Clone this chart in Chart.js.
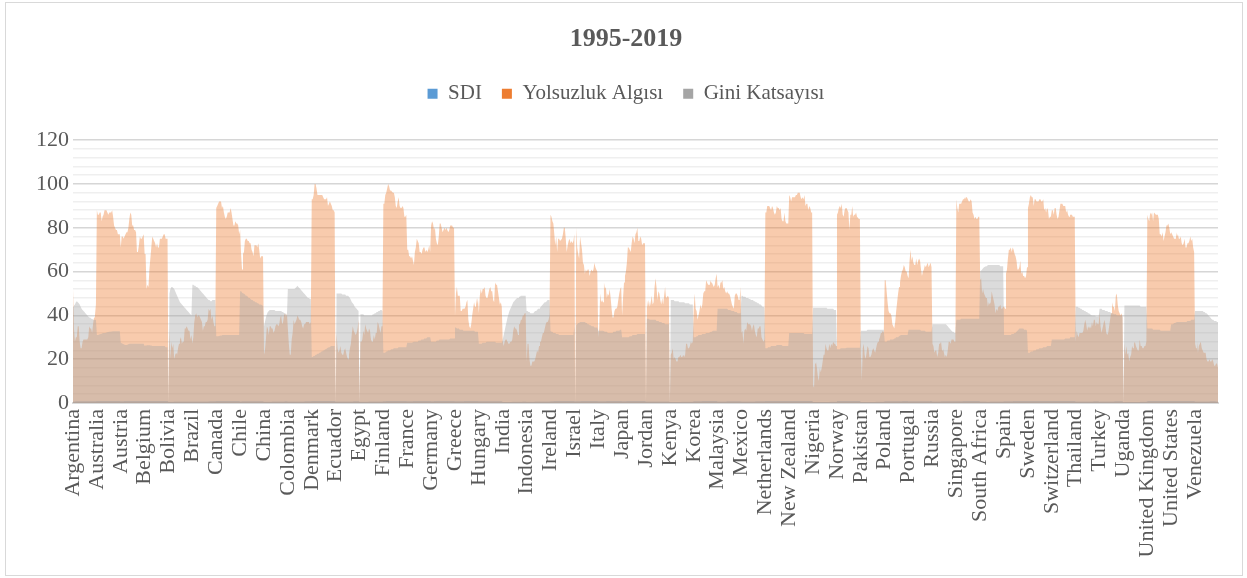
<!DOCTYPE html>
<html>
<head>
<meta charset="utf-8">
<script src="https://cdn.jsdelivr.net/npm/chart.js@4.4.1/dist/chart.umd.min.js"></script>
<style>
  html, body { margin: 0; padding: 0; background: #fff; }
  #wrap { position: relative; width: 1247px; height: 578px; }
  #frame { position: absolute; left: 5px; top: 2px; width: 1236px; height: 572px; border: 1px solid #d9d9d9; pointer-events: none; }
  canvas { display: block; }
</style>
</head>
<body>
<div id="wrap">
  <canvas id="myChart" width="1247" height="578"></canvas>
  <div id="frame"></div>
</div>
<script>
// Countries, one block of 25 years each
const countries = ['Argentina', 'Australia', 'Austria', 'Belgium', 'Bolivia', 'Brazil', 'Canada', 'Chile', 'China', 'Colombia',
  'Denmark', 'Ecuador', 'Egypt', 'Finland', 'France', 'Germany', 'Greece', 'Hungary', 'India', 'Indonesia',
  'Ireland', 'Israel', 'Italy', 'Japan', 'Jordan', 'Kenya', 'Korea', 'Malaysia', 'Mexico', 'Netherlands',
  'New Zealand', 'Nigeria', 'Norway', 'Pakistan', 'Poland', 'Portugal', 'Russia', 'Singapore', 'South Africa', 'Spain',
  'Sweden', 'Switzerland', 'Thailand', 'Turkey', 'Uganda', 'United Kingdom', 'United States', 'Venezuela'];

const years = [1995, 1996, 1997, 1998, 1999, 2000, 2001, 2002, 2003, 2004, 2005, 2006, 2007,
  2008, 2009, 2010, 2011, 2012, 2013, 2014, 2015, 2016, 2017, 2018, 2019];

// SDI (0-1), one row per country
const sdi = [
  [0.73,0.74,0.74,0.75,0.76,0.77,0.77,0.77,0.77,0.78,0.79,0.79,0.80,0.81,0.81,0.82,0.83,0.83,0.83,0.84,0.84,0.84,0.85,0.84,0.85],
  [0.89,0.89,0.89,0.90,0.90,0.90,0.91,0.91,0.91,0.91,0.92,0.92,0.92,0.92,0.92,0.93,0.93,0.93,0.93,0.93,0.94,0.94,0.94,0.94,0.94],
  [0.84,0.84,0.85,0.85,0.86,0.86,0.86,0.87,0.87,0.88,0.88,0.89,0.89,0.90,0.90,0.90,0.91,0.91,0.91,0.91,0.91,0.91,0.92,0.92,0.92],
  [0.87,0.87,0.88,0.88,0.88,0.89,0.89,0.89,0.89,0.89,0.90,0.90,0.90,0.90,0.91,0.91,0.91,0.91,0.92,0.92,0.92,0.93,0.93,0.93,0.93],
  [0.59,0.60,0.60,0.61,0.62,0.62,0.63,0.63,0.64,0.64,0.65,0.65,0.66,0.66,0.67,0.67,0.68,0.69,0.69,0.70,0.70,0.71,0.71,0.72,0.72],
  [0.64,0.65,0.65,0.66,0.67,0.67,0.68,0.69,0.69,0.70,0.70,0.71,0.71,0.72,0.72,0.73,0.73,0.74,0.75,0.75,0.75,0.76,0.76,0.76,0.76],
  [0.86,0.86,0.86,0.87,0.87,0.87,0.88,0.88,0.89,0.89,0.89,0.90,0.90,0.90,0.90,0.91,0.91,0.91,0.92,0.92,0.92,0.92,0.93,0.93,0.93],
  [0.74,0.74,0.75,0.75,0.76,0.76,0.77,0.77,0.78,0.78,0.79,0.79,0.80,0.80,0.81,0.81,0.82,0.83,0.83,0.84,0.84,0.84,0.85,0.85,0.85],
  [0.55,0.56,0.57,0.58,0.59,0.59,0.60,0.61,0.62,0.63,0.64,0.65,0.66,0.67,0.68,0.69,0.70,0.71,0.72,0.72,0.73,0.74,0.75,0.75,0.76],
  [0.64,0.64,0.65,0.65,0.66,0.66,0.67,0.68,0.68,0.69,0.70,0.71,0.71,0.72,0.72,0.73,0.74,0.74,0.75,0.75,0.76,0.76,0.76,0.77,0.77],
  [0.86,0.86,0.87,0.87,0.88,0.88,0.89,0.89,0.90,0.90,0.91,0.91,0.91,0.92,0.92,0.92,0.93,0.93,0.93,0.93,0.94,0.94,0.94,0.94,0.94],
  [0.66,0.66,0.67,0.67,0.67,0.67,0.68,0.68,0.69,0.69,0.70,0.70,0.71,0.71,0.72,0.72,0.73,0.74,0.74,0.75,0.75,0.76,0.76,0.76,0.76],
  [0.56,0.57,0.57,0.58,0.59,0.60,0.60,0.61,0.62,0.62,0.63,0.64,0.65,0.65,0.66,0.67,0.67,0.68,0.68,0.69,0.69,0.70,0.70,0.71,0.71],
  [0.83,0.84,0.85,0.86,0.87,0.87,0.88,0.88,0.89,0.89,0.90,0.90,0.90,0.91,0.91,0.91,0.92,0.92,0.92,0.93,0.93,0.93,0.94,0.94,0.94],
  [0.83,0.83,0.84,0.84,0.85,0.85,0.86,0.86,0.86,0.87,0.87,0.87,0.88,0.88,0.88,0.88,0.89,0.89,0.89,0.89,0.89,0.90,0.90,0.90,0.90],
  [0.84,0.85,0.85,0.86,0.86,0.87,0.88,0.88,0.89,0.90,0.90,0.91,0.91,0.92,0.92,0.93,0.93,0.93,0.94,0.94,0.94,0.94,0.95,0.95,0.95],
  [0.80,0.80,0.81,0.81,0.82,0.83,0.83,0.84,0.85,0.85,0.86,0.86,0.87,0.87,0.87,0.87,0.86,0.86,0.86,0.87,0.87,0.87,0.88,0.88,0.89],
  [0.75,0.75,0.76,0.76,0.77,0.77,0.78,0.79,0.80,0.80,0.81,0.82,0.82,0.83,0.83,0.83,0.83,0.84,0.84,0.84,0.84,0.84,0.85,0.85,0.85],
  [0.44,0.45,0.45,0.46,0.47,0.48,0.49,0.50,0.51,0.51,0.52,0.53,0.54,0.55,0.56,0.57,0.58,0.59,0.60,0.61,0.62,0.63,0.64,0.64,0.65],
  [0.57,0.58,0.59,0.59,0.60,0.60,0.61,0.62,0.62,0.63,0.64,0.64,0.65,0.66,0.66,0.67,0.68,0.68,0.69,0.69,0.70,0.70,0.71,0.71,0.72],
  [0.82,0.83,0.84,0.85,0.86,0.86,0.87,0.88,0.88,0.89,0.89,0.90,0.90,0.90,0.90,0.91,0.91,0.91,0.92,0.92,0.93,0.94,0.94,0.95,0.95],
  [0.82,0.82,0.83,0.83,0.84,0.85,0.85,0.86,0.86,0.87,0.87,0.88,0.88,0.88,0.89,0.89,0.89,0.90,0.90,0.90,0.91,0.91,0.91,0.92,0.92],
  [0.81,0.81,0.82,0.82,0.83,0.84,0.84,0.85,0.85,0.86,0.86,0.87,0.87,0.87,0.87,0.88,0.88,0.88,0.88,0.88,0.88,0.88,0.89,0.89,0.89],
  [0.84,0.84,0.85,0.85,0.85,0.86,0.86,0.87,0.87,0.87,0.88,0.88,0.88,0.89,0.89,0.89,0.90,0.90,0.90,0.91,0.91,0.91,0.92,0.92,0.92],
  [0.65,0.65,0.66,0.66,0.67,0.68,0.68,0.69,0.69,0.70,0.70,0.71,0.71,0.72,0.72,0.72,0.72,0.73,0.73,0.73,0.73,0.73,0.73,0.73,0.73],
  [0.46,0.46,0.46,0.46,0.47,0.47,0.47,0.48,0.48,0.49,0.50,0.51,0.52,0.53,0.54,0.55,0.56,0.56,0.57,0.57,0.58,0.58,0.59,0.59,0.60],
  [0.77,0.78,0.79,0.80,0.81,0.82,0.83,0.84,0.85,0.86,0.86,0.87,0.88,0.88,0.89,0.89,0.90,0.90,0.90,0.91,0.91,0.91,0.91,0.92,0.92],
  [0.69,0.70,0.71,0.71,0.72,0.72,0.73,0.73,0.74,0.74,0.75,0.75,0.76,0.76,0.76,0.77,0.77,0.78,0.78,0.79,0.79,0.80,0.80,0.81,0.81],
  [0.67,0.68,0.68,0.69,0.70,0.70,0.71,0.71,0.72,0.72,0.73,0.73,0.74,0.74,0.74,0.75,0.75,0.76,0.76,0.76,0.77,0.77,0.77,0.78,0.78],
  [0.86,0.87,0.87,0.88,0.88,0.88,0.89,0.89,0.89,0.90,0.90,0.90,0.91,0.91,0.91,0.92,0.92,0.92,0.92,0.93,0.93,0.93,0.94,0.94,0.94],
  [0.86,0.86,0.87,0.87,0.87,0.88,0.88,0.89,0.89,0.89,0.90,0.90,0.90,0.91,0.91,0.91,0.91,0.92,0.92,0.92,0.92,0.93,0.93,0.93,0.93],
  [0.40,0.40,0.41,0.41,0.42,0.42,0.43,0.44,0.45,0.45,0.46,0.47,0.48,0.48,0.49,0.49,0.50,0.51,0.52,0.52,0.53,0.53,0.53,0.54,0.54],
  [0.87,0.88,0.89,0.90,0.91,0.91,0.92,0.92,0.92,0.93,0.93,0.93,0.94,0.94,0.94,0.94,0.94,0.95,0.95,0.95,0.95,0.95,0.96,0.96,0.96],
  [0.42,0.42,0.43,0.43,0.44,0.45,0.45,0.46,0.47,0.47,0.48,0.49,0.50,0.50,0.51,0.51,0.52,0.53,0.53,0.54,0.54,0.55,0.55,0.56,0.56],
  [0.76,0.77,0.77,0.78,0.78,0.79,0.80,0.80,0.81,0.81,0.82,0.82,0.83,0.83,0.84,0.84,0.84,0.85,0.85,0.86,0.86,0.87,0.87,0.88,0.88],
  [0.77,0.78,0.78,0.79,0.79,0.79,0.80,0.80,0.80,0.81,0.81,0.82,0.82,0.82,0.82,0.82,0.83,0.83,0.84,0.84,0.84,0.85,0.85,0.86,0.86],
  [0.71,0.71,0.71,0.72,0.72,0.72,0.73,0.73,0.74,0.75,0.75,0.76,0.77,0.77,0.78,0.78,0.79,0.80,0.80,0.81,0.81,0.81,0.82,0.82,0.82],
  [0.80,0.81,0.82,0.83,0.84,0.84,0.85,0.86,0.87,0.88,0.88,0.89,0.89,0.90,0.90,0.91,0.92,0.92,0.92,0.93,0.93,0.93,0.94,0.94,0.94],
  [0.65,0.65,0.64,0.64,0.63,0.63,0.63,0.62,0.62,0.62,0.62,0.63,0.63,0.64,0.65,0.66,0.67,0.68,0.69,0.69,0.70,0.70,0.71,0.71,0.71],
  [0.81,0.82,0.82,0.83,0.83,0.84,0.84,0.84,0.85,0.85,0.86,0.86,0.86,0.87,0.87,0.87,0.87,0.88,0.88,0.88,0.89,0.89,0.89,0.90,0.90],
  [0.86,0.87,0.88,0.88,0.89,0.89,0.89,0.89,0.90,0.90,0.90,0.90,0.90,0.90,0.90,0.91,0.91,0.91,0.92,0.92,0.93,0.93,0.94,0.94,0.94],
  [0.88,0.88,0.88,0.89,0.89,0.89,0.90,0.90,0.90,0.91,0.91,0.92,0.93,0.93,0.93,0.94,0.94,0.94,0.94,0.95,0.95,0.95,0.96,0.96,0.96],
  [0.63,0.64,0.64,0.65,0.65,0.66,0.67,0.68,0.68,0.69,0.69,0.70,0.70,0.71,0.71,0.72,0.73,0.73,0.74,0.75,0.75,0.76,0.77,0.77,0.78],
  [0.62,0.63,0.64,0.65,0.65,0.66,0.66,0.67,0.68,0.69,0.70,0.70,0.71,0.72,0.72,0.74,0.75,0.76,0.77,0.78,0.79,0.79,0.80,0.81,0.82],
  [0.39,0.39,0.40,0.40,0.41,0.41,0.42,0.43,0.44,0.45,0.46,0.47,0.48,0.49,0.50,0.50,0.51,0.51,0.52,0.52,0.53,0.53,0.53,0.54,0.54],
  [0.85,0.86,0.86,0.86,0.87,0.87,0.88,0.88,0.89,0.89,0.90,0.90,0.90,0.91,0.91,0.91,0.91,0.91,0.92,0.92,0.92,0.92,0.93,0.93,0.93],
  [0.88,0.88,0.88,0.88,0.88,0.89,0.89,0.89,0.89,0.90,0.90,0.90,0.91,0.91,0.91,0.91,0.92,0.92,0.92,0.92,0.92,0.92,0.93,0.93,0.93],
  [0.67,0.67,0.67,0.67,0.67,0.68,0.68,0.68,0.68,0.69,0.70,0.71,0.72,0.73,0.74,0.74,0.75,0.76,0.76,0.77,0.76,0.75,0.73,0.72,0.71]
];

// Yolsuzluk Algısı (0-100), one row per country
const yolsuzluk = [
  [52,34,28,30,30,35,35,28,25,25,28,29,29,29,29,29,30,35,34,34,32,36,39,40,45],
  [88,86,86,87,87,83,85,86,88,88,88,87,86,87,87,87,88,85,81,80,79,79,77,77,77],
  [71,76,76,75,76,77,78,78,80,84,87,86,81,81,79,79,78,69,69,72,76,75,75,76,77],
  [68,68,52,54,53,61,66,71,76,75,74,73,71,73,71,71,75,75,75,76,77,77,75,75,75],
  [0,34,20,28,25,27,20,22,23,22,25,27,29,30,27,28,28,34,34,35,34,33,33,29,31],
  [27,30,37,40,41,39,40,40,39,39,37,33,35,35,37,37,38,43,42,43,38,40,37,35,35],
  [89,90,91,92,92,92,89,90,87,85,84,85,87,87,87,89,87,84,81,81,83,82,82,81,77],
  [79,68,61,68,69,74,75,75,74,74,73,73,70,69,67,72,72,72,71,73,70,66,67,67,67],
  [22,24,29,35,34,31,35,35,34,34,32,33,35,36,36,35,36,39,40,36,37,40,41,39,41],
  [34,27,22,22,29,32,38,36,37,38,40,39,38,38,37,35,34,36,36,37,37,37,37,36,37],
  [93,93,95,100,100,98,95,95,95,95,95,95,94,93,93,93,94,90,91,92,91,90,88,88,87],
  [0,32,25,23,24,26,23,22,22,24,25,23,21,20,22,25,27,32,35,33,32,31,32,34,38],
  [0,28,28,29,33,31,36,34,33,32,34,33,29,28,28,31,29,32,32,37,36,34,32,35,35],
  [91,91,95,96,98,100,99,97,97,97,96,96,94,90,89,92,94,90,89,89,90,89,85,85,86],
  [70,70,67,67,66,67,67,63,69,71,75,74,73,69,69,68,70,71,71,69,70,69,70,72,69],
  [81,83,82,79,80,75,73,72,76,82,82,80,78,79,80,79,80,79,78,79,81,81,81,80,80],
  [40,50,53,49,49,49,42,42,43,43,43,44,46,47,38,35,34,36,40,43,46,44,48,45,48],
  [41,49,52,50,52,52,53,49,48,48,50,52,53,51,51,47,46,55,54,54,51,48,45,46,44],
  [28,26,28,29,29,28,27,27,28,28,29,33,35,34,34,33,31,36,36,38,38,40,40,41,41],
  [19,27,27,20,17,17,19,19,19,20,22,24,23,26,28,28,30,32,32,34,36,37,37,38,40],
  [86,85,83,82,77,72,76,69,75,75,74,74,75,77,80,80,75,69,72,74,75,73,74,73,74],
  [77,0,80,71,68,66,76,73,70,64,63,59,61,60,61,61,58,60,61,60,61,64,62,61,60],
  [30,34,50,46,47,46,55,52,53,48,50,49,52,48,43,39,39,42,43,43,44,47,50,52,53],
  [40,48,55,58,60,64,71,71,70,69,73,76,75,73,77,78,80,74,74,76,75,72,73,73,73],
  [0,47,44,47,44,46,49,45,46,53,57,53,47,51,50,47,45,48,45,49,53,48,48,49,48],
  [0,22,23,25,20,21,20,19,19,21,21,22,21,21,22,21,22,27,27,25,25,26,28,27,28],
  [43,50,43,42,38,40,42,45,43,45,50,51,51,56,55,54,54,56,55,55,54,53,54,57,59],
  [53,54,52,55,55,56,52,53,51,50,51,50,50,49,47,45,44,43,49,50,50,49,47,47,53],
  [32,33,27,33,34,33,37,36,36,36,35,33,35,36,33,31,30,34,34,35,35,30,29,28,29],
  [87,87,90,90,90,89,88,90,89,87,86,87,90,89,89,88,89,84,83,83,87,83,82,82,82],
  [95,94,92,94,94,94,94,95,95,96,96,96,94,93,94,93,95,90,91,91,88,90,89,87,87],
  [8,7,18,19,16,12,10,16,14,16,19,22,22,27,25,24,24,27,25,27,26,28,27,27,26],
  [86,87,89,90,89,91,86,85,88,89,89,88,87,79,86,86,90,85,86,86,87,85,85,84,84],
  [23,10,25,27,22,20,23,26,25,21,21,22,24,25,24,23,25,27,28,29,30,32,32,33,32],
  [56,56,51,46,42,41,41,40,36,35,34,37,42,46,50,53,55,58,60,61,63,62,60,60,58],
  [57,65,70,65,67,64,63,63,66,63,65,66,65,61,58,60,61,63,62,63,64,62,63,64,62],
  [27,26,23,24,24,21,23,27,27,28,24,25,23,21,22,21,24,28,28,27,29,29,29,28,28],
  [93,89,87,91,91,91,92,93,94,93,94,94,93,92,92,93,92,87,86,84,85,84,84,85,85],
  [56,57,50,52,50,50,48,48,44,46,45,46,51,49,47,45,41,43,42,44,44,45,43,43,44],
  [44,43,59,61,66,70,70,71,69,71,70,68,67,65,61,61,62,65,59,60,58,58,57,58,62],
  [89,91,94,95,94,94,90,93,93,92,92,92,93,93,92,92,93,88,89,87,89,88,84,85,85],
  [88,88,86,89,89,86,84,85,88,91,91,91,90,90,90,87,88,86,85,86,86,86,85,85,85],
  [28,33,31,30,32,32,32,32,33,36,38,36,33,35,34,35,34,37,35,38,38,35,37,36,36],
  [41,35,32,34,36,38,36,32,31,32,35,38,41,46,44,44,42,49,50,45,42,41,40,41,39],
  [0,27,22,26,22,23,19,21,22,26,25,27,28,26,25,24,24,29,26,26,25,25,26,26,28],
  [86,84,83,87,86,87,83,87,87,86,86,86,84,77,77,76,78,74,76,78,81,81,82,80,77],
  [78,77,76,75,75,78,76,77,75,75,76,73,72,73,75,71,71,73,73,74,76,74,75,71,69],
  [27,25,28,23,26,27,28,25,24,23,23,23,20,19,19,20,19,19,20,19,17,17,18,18,16]
];

// Gini Katsayısı, one row per country
const gini = [
  [44,44.5,45,46,46.5,46,45.5,45,44,43,42.5,42,41.5,41,40.5,40,39.5,39,39,38.5,38.5,38,38,38,38],
  [31,31,31.2,31.4,31.5,31.6,31.8,32,32,32,32.2,32.3,32.4,32.5,32.5,32.6,32.7,32.8,32.8,32.8,32.8,32.8,32.8,32.8,32.8],
  [27.5,27.3,27,26.8,26.6,26.5,26.5,26.6,26.8,27,27,27,27,27,27,27,27,27,27,27,27,27,27,27,27],
  [26,26.2,26.2,26.4,26.4,26.4,26.2,26.2,26,26,26,26,26,26,26,26,26,26,26,26,26,26,25.5,25.5,25.5],
  [0,50,52,53,53,52.5,52,51,50,49,48,47,46,45.5,45,44.5,44,43.5,43,42.5,42,41.5,41,40.5,40],
  [54,54,53.5,53.5,53,53,52.5,52,51.5,51,50.5,50,49.5,49,48.5,48,47.5,47,47,46.5,46.5,47,47,47,47],
  [30.5,30.5,30.5,30.6,30.7,30.8,30.9,31,31,31,31,31,31,31,31,31,31,31,31,31,31,31,31,31,31],
  [51,51,50.5,50,50,49.5,49,49,48.5,48,48,47.5,47,47,46.5,46.5,46,46,45.5,45.5,45,45,45,44.5,44.5],
  [35,37,39,40.5,41.5,42,42.5,42.5,42.5,42.5,42.5,42.5,42,42,42,42,42,42,42,41.5,41.5,41,41,40.5,40],
  [52,52,52,52,52,52,52,52,52.5,53,53.5,53,52.5,52,51.5,51,50.5,50,49.5,49,48.5,48,48,47.5,47.5],
  [21,21,21.5,21.5,22,22,22.5,22.5,23,23,23.5,23.5,24,24,24.5,24.5,25,25,25.5,25.5,26,26,26,26,26],
  [0,50,50,50,50,50,50,49.5,49.5,49.5,49.5,49,49,49,48.5,48,47,46,45.5,45,44,43.5,43,42.5,42],
  [0,40.5,40.5,40.5,40.5,40,40,40,40,40,40,40,40,40,40.5,40.5,41,41,41.5,41.5,42,42,42.5,42.5,42],
  [23,23,23,23.5,23.5,24,24,24,24.5,24.5,24.5,25,25,25,25,25,25.5,25.5,25.5,25.5,25.5,25.5,25.5,25.5,25.5],
  [27.5,27.5,27.5,27.5,27.5,27.5,27.5,28,28,28,28,28,28.5,28.5,28.5,29,29,29,29.5,29.5,29.5,30,30,30,30],
  [28,28,28,28,28,28,28.5,28.5,28.5,29,29,29,29,29,29,29,29,29,29,29,29.5,29.5,29.5,29.5,29.5],
  [34.5,34.5,34,34,34,33.5,33.5,33.5,33.5,33,33,33,33,33,33,33,33,33,33,33,33,32.5,32.5,32.5,32.5],
  [27,27,27,27,27.5,27.5,27.5,27.5,28,28,28,28,28,28,28,28,28,28,27.5,27.5,27.5,27.5,27.5,27.5,27.5],
  [29,31,33,35,37,39,40.5,42,43,44,45,46,46.5,47,47.5,48,48,48.5,48.5,49,49,49,49,49,49],
  [42,42,41.5,41.5,41,41,41,41,41.5,42,42,42.5,43,43,43.5,44,44.5,45,45.5,46,46,46.5,47,47,47],
  [33,32.5,32.5,32,32,32,31.5,31.5,31.5,31,31,31,31,31,31,31,31,31,31,31,31,31,31,31,31],
  [35,0,35.5,36,36.5,36.5,37,37,37,37,37,37,36.5,36.5,36,36,35.5,35.5,35,35,35,34.5,34.5,34.5,34.5],
  [33,33,33,33,33,33,33,32.5,32.5,32.5,32,32,32,32,32,32,32.5,32.5,32.5,33,33,33,33,33.5,33.5],
  [30,30,30,30,30,30,30,30,30.5,30.5,30.5,31,31,31,31,31,31.5,31.5,31.5,31.5,31.5,31.5,31.5,31.5,31.5],
  [0,38.5,38.5,38.5,38,38,38,38,38,38,38,37.5,37.5,37.5,37,37,37,36.5,36.5,36.5,36,36,36,36,36],
  [0,47,47,47,47,46.5,46.5,46.5,46.5,46.5,46,46,46,46,46,46,45.5,45.5,45.5,45.5,45.5,45,45,45,45],
  [30,30,30,30.5,30.5,31,31,31,31,31.5,31.5,31.5,31.5,32,32,32,32,32,32.5,32.5,33,33,33,33,33],
  [43,43,43,43,43,43,43,43,43,43,43,42.5,42.5,42.5,42.5,42,42,42,41.5,41.5,41.5,41,41,41,41],
  [49,49,48.5,48.5,48.5,48,48,48,47.5,47.5,47,47,47,46.5,46.5,46,46,45.5,45.5,45,45,44.5,44,44,43.5],
  [25,25,25,25.5,25.5,25.5,26,26,26,26,26,26,26.5,26.5,26.5,26.5,26.5,26.5,26,26,26,26,26,26,26],
  [32,32,32,32,32,32,32,32,32,32,32,32,32,32,32,32,31.5,31.5,31.5,31.5,31.5,31.5,31.5,31.5,31.5],
  [43.5,43.5,43.5,43.5,43.5,43.5,43.5,43.5,43.5,43.5,43.5,43.5,43.5,43.5,43.5,43,43,43,43,43,43,43,42.5,42.5,42.5],
  [24.5,24.5,24.5,24.5,25,25,25,25,25,25,25.2,25.2,25.2,25.2,25.2,25.2,25.2,25.2,25.2,25.2,25.2,25.2,25.2,25.2,25.2],
  [33,33,33,33,33,33,33,33.5,33.5,33.5,33.5,33.5,33.5,33.5,33.5,33.5,33.5,33.5,33.5,33.5,33.5,33.5,33.5,33.5,33.5],
  [28,28,28,28.5,28.5,28.5,29,29,29,29,29.5,29.5,30,30,30,30.5,30.5,31,31,31,31,31,31,31,31],
  [33.5,33.5,33.5,33.5,33.5,33.5,33.5,33.5,33.5,33.5,33.5,33.5,33.5,33,33,33,33,33,32.5,32.5,32.5,32.5,32.5,32.5,32.5],
  [36,36,36,36,36,36,36,36,36,36,36,36,36,36,36,35.5,35,34.5,34,33.5,33,32.5,32.5,32,32],
  [38,38,38,38,38,38.5,38.5,38.5,38.5,38.5,38.5,38.5,38.5,38.5,38.5,38.5,38.5,38.5,38.5,38.5,38.5,38.5,38.5,38.5,38.5],
  [60,60.5,61,61.5,62,62,62.5,62.5,63,63,63,63,63,63,63,63,63,63,63,63,63,62.5,62.5,62.5,62.5],
  [31,31,31,31,31,31,31,31,31.5,31.5,31.5,32,32,32.5,33,33.5,34,34,34,34,34,33.5,33.5,33.5,33],
  [23,23,23,23.5,23.5,23.5,24,24,24,24.5,24.5,24.5,25,25,25,25,25.5,25.5,25.5,25.5,26,26,26,26,26],
  [29,29,29,29,29,29,29,29,29,29,29,29,29,29,29.5,29.5,29.5,29.5,29.5,30,30,30,30,30,30],
  [44,44,44,43.5,43.5,43,43,42.5,42.5,42,42,41.5,41.5,41,41,40.5,40.5,40,40,40,40,39.5,39.5,39.5,39.5],
  [43,43,43,42.5,42.5,42.5,42,42,42,41.5,41.5,41.5,41,41,41,40.5,40.5,40.5,40,40,40,40,40,40,40],
  [0,44.5,44.5,44.5,44.5,44.5,44.5,44.5,44.5,44.5,44.5,44.5,44.5,44.5,44.5,44.5,44.5,44.5,44,44,44,44,44,44,44],
  [34,34,34,34,34,34,33.5,33.5,33.5,33.5,33.5,33.5,33.5,33.5,33,33,33,33,33,33,33,33,33,33,33],
  [36,36,36,36.5,36.5,36.5,37,37,37,37,37,37,37,37,37,37,37,37.5,37.5,37.5,37.5,38,38,38,38],
  [42,42,42,42,42,42,42,42,42,41.5,41.5,41,41,40.5,40,39.5,39,38.5,38,38,37.5,37.5,37.5,37,37]
];

// Flatten the country blocks into one long category axis
const labels = [];
const sdiData = [];
const yolsuzlukData = [];
const giniData = [];
countries.forEach((country, i) => {
  years.forEach((year, j) => {
    labels.push(country);
    sdiData.push(sdi[i][j]);
    yolsuzlukData.push(yolsuzluk[i][j]);
    giniData.push(gini[i][j]);
  });
});

const textColor = '#595959';
const serif = 'Liberation Serif, Times New Roman, serif';

const solidColors = ['#5B9BD5', '#ED7D31', '#A5A5A5'];

const ctx = document.getElementById('myChart').getContext('2d');
const myChart = new Chart(ctx, {
  type: 'line',
  data: {
    labels: labels,
    datasets: [
      {
        label: 'SDI',
        data: sdiData,
        backgroundColor: 'rgba(91, 155, 213, 0.45)',
        borderColor: 'rgba(0,0,0,0)',
        borderWidth: 0,
        fill: 'origin',
        order: 3
      },
      {
        label: 'Yolsuzluk Algısı',
        data: yolsuzlukData,
        backgroundColor: 'rgba(237, 125, 49, 0.4)',
        borderColor: 'rgba(0,0,0,0)',
        borderWidth: 0,
        fill: 'origin',
        order: 2
      },
      {
        label: 'Gini Katsayısı',
        data: giniData,
        backgroundColor: 'rgba(165, 165, 165, 0.4)',
        borderColor: 'rgba(0,0,0,0)',
        borderWidth: 0,
        fill: 'origin',
        order: 1
      }
    ]
  },
  options: {
    responsive: false,
    animation: false,
    devicePixelRatio: 1,
    layout: { padding: { left: 34, right: 29, top: 10, bottom: 0 } },
    elements: {
      point: { radius: 0, hoverRadius: 0 },
      line: { tension: 0 }
    },
    plugins: {
      title: {
        display: true,
        text: '1995-2019',
        color: textColor,
        font: { family: serif, size: 26, weight: 'bold' },
        padding: { top: 14, bottom: 8 }
      },
      legend: {
        display: true,
        position: 'top',
        labels: {
          color: textColor,
          font: { family: serif, size: 21 },
          boxWidth: 10,
          boxHeight: 10,
          padding: 20,
          sort: (a, b) => a.datasetIndex - b.datasetIndex,
          generateLabels: function(chart) {
            const items = Chart.defaults.plugins.legend.labels.generateLabels(chart);
            items.forEach((item) => {
              item.fillStyle = solidColors[item.datasetIndex];
              item.strokeStyle = solidColors[item.datasetIndex];
              item.lineWidth = 0;
            });
            return items;
          }
        }
      },
      tooltip: { enabled: false }
    },
    scales: {
      x: {
        type: 'category',
        offset: false,
        grid: { display: false, drawTicks: false },
        border: { display: true, color: '#d9d9d9', width: 2 },
        ticks: {
          autoSkip: false,
          minRotation: 90,
          maxRotation: 90,
          padding: 6,
          color: textColor,
          font: { family: serif, size: 22 },
          callback: function(value, index) {
            return index % years.length === 0 ? countries[index / years.length] : '';
          }
        },
        afterFit: function(scale) {
          scale.height = 175;
          scale.paddingLeft = 0;
          scale.paddingRight = 0;
        }
      },
      xTop: {
        type: 'category',
        position: 'top',
        display: true,
        grid: { display: false, drawTicks: false },
        border: { display: false },
        ticks: { display: false },
        afterFit: function(scale) {
          scale.height = 26;
          scale.paddingLeft = 0;
          scale.paddingRight = 0;
        }
      },
      y: {
        min: 0,
        max: 120,
        grid: {
          drawTicks: false,
          color: (c) => (c.tick && c.tick.value % 20 === 0) ? '#d6d6d6' : '#efefef',
          lineWidth: 1.6
        },
        border: { display: false },
        ticks: {
          stepSize: 4,
          autoSkip: false,
          padding: 4,
          color: textColor,
          font: { family: serif, size: 22 },
          callback: (v) => (v % 20 === 0 ? v : '')
        },
        afterFit: function(scale) { scale.width = 39; }
      }
    }
  }
});
</script>
</body>
</html>
